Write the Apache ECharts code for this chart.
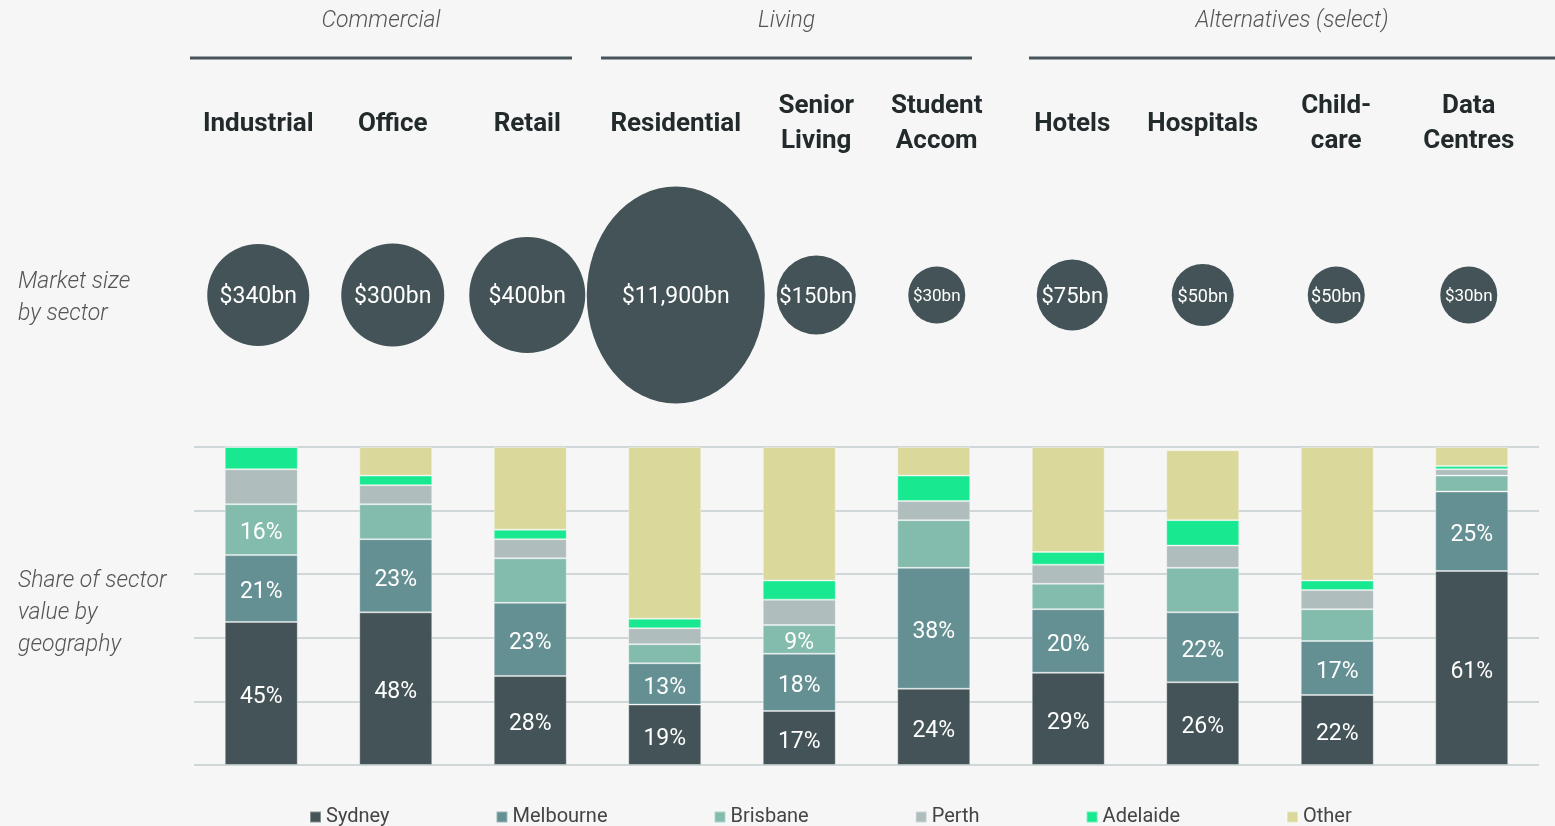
<!DOCTYPE html>
<html>
<head>
<meta charset="utf-8">
<title>Market size and geography by sector</title>
<script src="https://cdn.jsdelivr.net/npm/echarts@6/dist/echarts.min.js"></script>
<style>
    html, body { margin: 0; padding: 0; background: #f6f6f6; }
    #chart { width: 1555px; height: 826px; }
</style>
</head>
<body>
<div id="chart"></div>
<script>
    // sectors along the x axis
    const sectors = ['Industrial', 'Office', 'Retail', 'Residential', 'Senior\nLiving',
        'Student\nAccom', 'Hotels', 'Hospitals', 'Child-\ncare', 'Data\nCentres'];

    // market size, $bn
    const marketSize = [340, 300, 400, 11900, 150, 30, 75, 50, 50, 30];

    // share of sector value by geography, %
    const sydney    = [45, 48, 28, 19, 17, 24, 29, 26, 22, 61];
    const melbourne = [21, 23, 23, 13, 18, 38, 20, 22, 17, 25];
    const brisbane  = [16, 11, 14,  6,  9, 15,  8, 14, 10,  5];
    const perth     = [11,  6,  6,  5,  8,  6,  6,  7,  6,  2];
    const adelaide  = [ 7,  3,  3,  3,  6,  8,  4,  8,  3,  1];
    const other     = [ 0,  9, 26, 54, 42,  9, 33, 22, 42,  6];

    const yTicks = [0, 20, 40, 60, 80, 100];

    // styling only (not data)
    const bubbleSize = [[102, 102], [103, 103], [116, 116], [178, 217], [79, 79],
        [57, 57], [71, 71], [62, 62], [57, 57], [57, 57]];
    const bubbleFont = [23, 23, 23, 23, 22, 17, 22, 18, 18, 17];
    // the top row sits a little off the bar centres in the original layout
    const topShift = [-3, -3, -3, 11, 17, 3, 4, 0, -1, -3];
    const colors = {
        Sydney: '#435357', Melbourne: '#648f93', Brisbane: '#83bcad',
        Perth: '#b0bdbd', Adelaide: '#18e890', Other: '#dbd89c'
    };
    // which bars carry a % label
    const labelled = {
        Sydney: [0, 1, 2, 3, 4, 5, 6, 7, 8, 9],
        Melbourne: [0, 1, 2, 3, 4, 5, 6, 7, 8, 9],
        Brisbane: [0, 4]
    };

    const FONT = 'Roboto, "Noto Sans", sans-serif';

    function stackSeries(name, values) {
        let show = labelled[name] || [];
        return {
            name: name,
            type: 'bar',
            stack: 'share',
            xAxisIndex: 0,
            yAxisIndex: 0,
            barWidth: 73,
            itemStyle: {
                color: colors[name],
                borderColor: 'rgba(255,255,255,0.35)',
                borderWidth: 1
            },
            data: values.map(function (v, i) {
                return {
                    value: v,
                    label: {
                        show: show.indexOf(i) >= 0,
                        position: 'inside',
                        offset: [0, 4],
                        formatter: '{c}%',
                        color: '#ffffff',
                        fontSize: 23,
                        fontFamily: FONT
                    }
                };
            })
        };
    }

    function sideText(lines, x, y) {
        return {
            type: 'text',
            left: x,
            top: y,
            style: {
                text: lines.join('\n'),
                font: 'italic 300 23px ' + FONT,
                fill: '#555555',
                lineHeight: 32
            }
        };
    }

    function groupHeader(text, x1, x2) {
        return [
            {
                type: 'text',
                x: (x1 + x2) / 2,
                y: 21,
                style: {
                    text: text,
                    font: 'italic 300 23px ' + FONT,
                    fill: '#555555',
                    textAlign: 'center',
                    textVerticalAlign: 'middle'
                }
            },
            {
                type: 'line',
                shape: { x1: x1, y1: 58, x2: x2, y2: 58 },
                style: { stroke: '#46545a', lineWidth: 3 }
            }
        ];
    }

    const sectorLabels = sectors.map(function (s, i) {
        let d = topShift[i] * 2;
        return {
            value: s,
            textStyle: {
                verticalAlign: 'middle',
                padding: d >= 0 ? [0, 0, 0, d] : [0, -d, 0, 0]
            }
        };
    });

    const chart = echarts.init(document.getElementById('chart'));
    chart.setOption({
        backgroundColor: '#f6f6f6',
        animation: false,
        textStyle: { fontFamily: FONT },
        legend: {
            left: 309,
            top: 807,
            padding: 0,
            itemGap: 106,
            itemWidth: 11,
            itemHeight: 11,
            icon: 'rect',
            textStyle: { fontSize: 20, color: '#444444', fontFamily: FONT },
            data: ['Sydney', 'Melbourne', 'Brisbane', 'Perth', 'Adelaide', 'Other']
        },
        grid: [
            { left: 194, width: 1345, top: 447, height: 318 },
            { left: 194, width: 1345, top: 180, height: 230 }
        ],
        xAxis: [
            {
                type: 'category',
                gridIndex: 0,
                data: sectors,
                axisLine: { show: false },
                axisTick: { show: false },
                axisLabel: { show: false }
            },
            {
                type: 'category',
                gridIndex: 1,
                position: 'top',
                data: sectorLabels,
                axisLine: { show: false },
                axisTick: { show: false },
                axisLabel: {
                    interval: 0,
                    margin: 56,
                    verticalAlign: 'middle',
                    fontSize: 26,
                    fontWeight: 'bold',
                    color: '#222a2c',
                    lineHeight: 35,
                    fontFamily: FONT
                }
            }
        ],
        yAxis: [
            {
                type: 'value',
                gridIndex: 0,
                min: yTicks[0],
                max: yTicks[yTicks.length - 1],
                interval: 20,
                axisLabel: { show: false },
                axisLine: { show: false },
                axisTick: { show: false },
                splitLine: { lineStyle: { color: '#cfd7d9', width: 2 } }
            },
            {
                type: 'category',
                gridIndex: 1,
                data: ['Market size'],
                show: false
            }
        ],
        series: [
            {
                name: 'Market size',
                type: 'scatter',
                xAxisIndex: 1,
                yAxisIndex: 1,
                symbol: 'circle',
                symbolSize: function (val, params) {
                    return bubbleSize[params.dataIndex];
                },
                itemStyle: { color: '#435357', opacity: 1 },
                data: marketSize.map(function (v, i) {
                    return {
                        value: [sectors[i], 'Market size', v],
                        symbolOffset: [topShift[i], 0],
                        label: {
                            show: true,
                            position: 'inside',
                            offset: [0, 2],
                            color: '#ffffff',
                            fontSize: bubbleFont[i],
                            fontFamily: FONT,
                            formatter: function (p) {
                                return '$' + p.value[2].toLocaleString('en-US') + 'bn';
                            }
                        }
                    };
                })
            },
            stackSeries('Sydney', sydney),
            stackSeries('Melbourne', melbourne),
            stackSeries('Brisbane', brisbane),
            stackSeries('Perth', perth),
            stackSeries('Adelaide', adelaide),
            stackSeries('Other', other)
        ],
        graphic: [
            sideText(['Market size', 'by sector'], 18, 266),
            sideText(['Share of sector', 'value by', 'geography'], 18, 565)
        ]
            .concat(groupHeader('Commercial', 190, 572))
            .concat(groupHeader('Living', 601, 972))
            .concat(groupHeader('Alternatives (select)', 1029, 1555))
    });
</script>
</body>
</html>
